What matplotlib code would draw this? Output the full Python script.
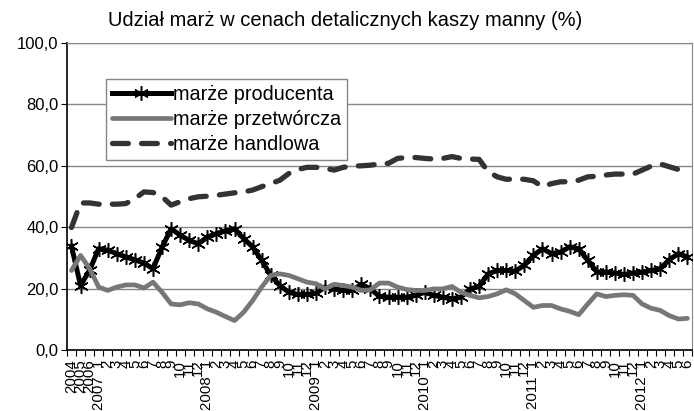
import matplotlib
matplotlib.use("Agg")
import matplotlib.pyplot as plt
import numpy as np

plt.rcParams['font.family'] = ['Liberation Sans', 'DejaVu Sans']

# categories: three annual values, then monthly from 2007-01 to 2012-06
years_annual = ["2004", "2005", "2006"]
month_years = [2007, 2008, 2009, 2010, 2011, 2012]
months_last_year = 6

labels = list(years_annual)
for y in month_years:
    n = 12 if y != 2012 else months_last_year
    for m in range(1, n + 1):
        labels.append(f"{y}  1" if m == 1 else str(m))

producent = [
    33.8, 21.0, 26.0, 33.0, 32.5, 31.4, 30.3, 29.4, 28.3, 26.5,
    33.5, 39.5, 37.4, 35.7, 34.6, 36.8, 37.9, 38.8, 39.5, 36.3,
    33.6, 29.2, 24.3, 21.0, 18.8, 18.1, 18.1, 18.5, 20.5, 19.9,
    19.4, 19.4, 21.4, 19.9, 17.5, 17.2, 17.2, 17.2, 17.8, 18.8,
    17.8, 17.2, 16.7, 17.2, 19.9, 20.7, 24.8, 25.9, 25.9, 25.7,
    27.6, 30.8, 33.0, 31.4, 31.9, 33.6, 33.0, 29.2, 25.4, 25.4,
    25.1, 24.6, 25.1, 25.4, 25.9, 26.5, 29.4, 31.4, 30.3,
]
przetworcza = [
    25.9, 30.8, 26.5, 20.5, 19.4, 20.5, 21.2, 21.2, 20.2, 22.1,
    18.8, 15.0, 14.7, 15.4, 15.0, 13.4, 12.3, 10.9, 9.6, 12.3,
    16.1, 20.5, 24.3, 24.8, 24.3, 23.2, 22.1, 21.6, 19.9, 21.4,
    21.0, 20.5, 19.4, 19.6, 21.8, 21.8, 20.5, 19.7, 19.4, 19.4,
    19.9, 19.9, 20.7, 18.8, 17.8, 17.0, 17.4, 18.3, 19.6, 18.3,
    16.1, 13.9, 14.5, 14.5, 13.4, 12.6, 11.5, 15.0, 18.3, 17.4,
    17.8, 18.0, 17.8, 15.0, 13.6, 12.9, 11.2, 10.1, 10.3,
]
handlowa = [
    39.9, 47.9, 47.9, 47.5, 47.5, 47.5, 47.7, 49.3, 51.5, 51.3,
    49.9, 47.2, 48.3, 49.3, 49.9, 50.1, 50.4, 50.8, 51.2, 51.5,
    52.1, 53.2, 54.2, 55.3, 57.5, 58.8, 59.5, 59.5, 59.2, 58.6,
    59.5, 59.9, 60.0, 60.2, 60.6, 60.8, 62.4, 62.7, 62.7, 62.4,
    62.2, 62.4, 63.0, 62.4, 62.2, 62.1, 58.1, 56.4, 55.6, 55.7,
    55.6, 55.1, 53.2, 54.2, 54.8, 54.8, 55.3, 56.4, 56.6, 57.0,
    57.3, 57.3, 57.3, 58.6, 59.9, 60.6, 59.7, 58.8, 59.2,
]

x = np.arange(len(labels))

fig = plt.figure(figsize=(6.94, 4.11), dpi=100)
ax = fig.add_axes([0.0965, 0.1484, 0.9005, 0.747])

ax.plot(x, producent, color="black", lw=3.6, marker=(6, 2, 0), ms=10.5, mew=1.1,
        mec="black", solid_joinstyle="round", label="marże producenta", zorder=3)
ax.plot(x, przetworcza, color="#777777", lw=3.4, solid_joinstyle="round",
        solid_capstyle="round", label="marże przetwórcza", zorder=4)
ax.plot(x, handlowa, color="#333333", lw=3.8, dashes=(3.0, 2.5),
        dash_capstyle="round", dash_joinstyle="round", label="marże handlowa", zorder=5)

ax.set_xlim(-0.5, len(labels) - 0.5)
ax.set_ylim(0, 100)
ax.set_yticks(np.arange(0, 101, 20))
ax.set_yticklabels([f"{v:.1f}".replace(".", ",") for v in np.arange(0, 101, 20)], fontsize=12)
ax.set_xticks(x)
ax.set_xticklabels(labels, rotation=90, fontsize=10.8)
ax.set_xticks(np.arange(-0.5, len(labels), 1), minor=True)
ax.tick_params(axis="x", which="major", length=0, pad=7)
ax.tick_params(axis="x", which="minor", length=4, direction="out", width=0.8)
ax.tick_params(axis="y", length=4, direction="out", width=0.8, pad=2)

ax.grid(axis="y", color="#868686", lw=1)
ax.set_axisbelow(True)
for side in ["top", "right"]:
    ax.spines[side].set_color("#868686")
for side in ["left", "bottom"]:
    ax.spines[side].set_color("black")
    ax.spines[side].set_linewidth(1.2)

fig.text(0.497, 0.951, "Udział marż w cenach detalicznych kaszy manny (%)",
         fontsize=14.5, ha="center", va="center")

leg = ax.legend(loc="upper left", bbox_to_anchor=(0.062, 0.883), fontsize=14.3,
                frameon=True, fancybox=False, edgecolor="#868686", framealpha=1,
                handlelength=3.0, handletextpad=0.1, labelspacing=0.3,
                borderaxespad=0, borderpad=0.3, numpoints=1)
leg.get_frame().set_linewidth(1)

fig.savefig("out.png", dpi=100)
